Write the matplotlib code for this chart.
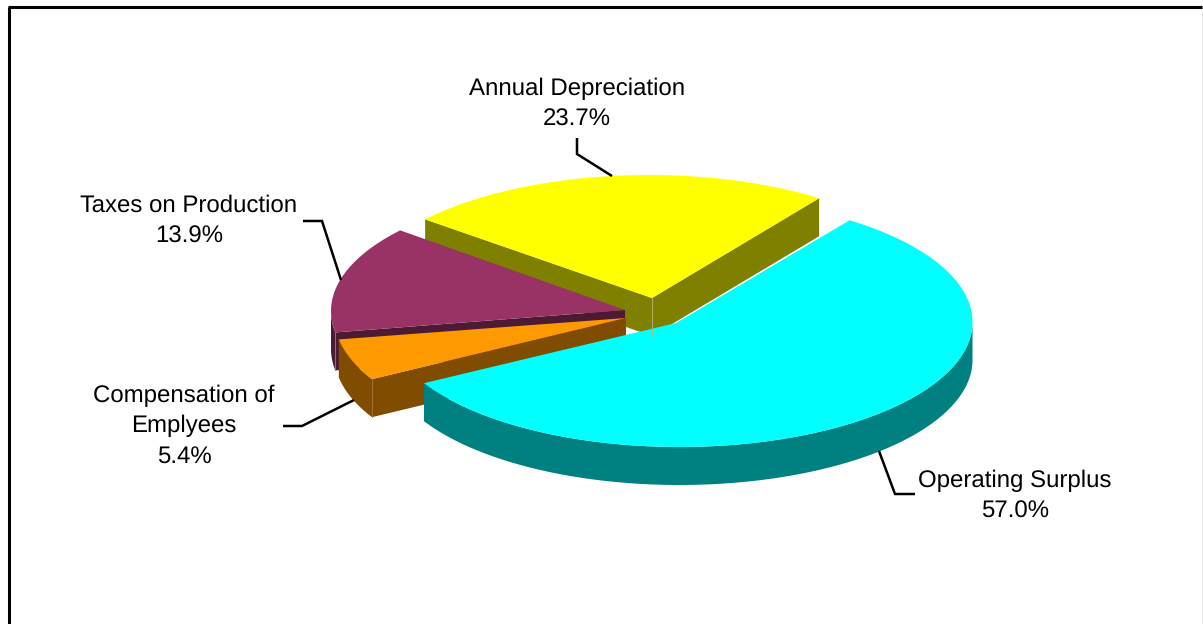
import numpy as np
import matplotlib
matplotlib.use("Agg")
import matplotlib.pyplot as plt

plt.rcParams["text.hinting"] = "no_hinting"
plt.rcParams["text.hinting_factor"] = 1

# Data
labels = ["Operating Surplus", "Compensation of\nEmplyees", "Taxes on Production", "Annual Depreciation"]
shares = [57.0, 5.4, 13.9, 23.7]

# Style
top_colors = ["#00FFFF", "#FF9900", "#993366", "#FFFF00"]
side_colors = ["#008080", "#804C00", "#4D1A33", "#808000"]
start_angle = 54.5
rx, ry, depth = 293, 125, 38

# Layout in pixels: where each exploded slice sits
arc_centers = [(679.5, 322), (627.5, 318), (624, 311), (649, 300)]
tips = [(676, 323), (626, 318), (625, 310), (652, 298)]
draw_order = [3, 2, 1, 0]
text_pos = [(1015, 496), (184, 426), (189, 221), (577, 104)]
leaders = [
    [(879, 451), (895, 494), (915, 494)],
    [(283, 426), (302, 426), (354, 400)],
    [(303, 221), (322, 221), (341, 280)],
    [(577, 138), (577, 154), (612, 176)],
]

fig = plt.figure(figsize=(12.03, 6.24), dpi=100)
ax = fig.add_axes([0, 0, 1, 1])
ax.set_xlim(0, 1203)
ax.set_ylim(624, 0)
ax.axis("off")


def arc(center, a1, a2):
    t = np.radians(np.linspace(a1, a2, 200))
    return center[0] + rx * np.cos(t), center[1] - ry * np.sin(t)


# slices go clockwise from the start angle
spans = np.array(shares) / sum(shares) * 360
ends = start_angle - np.cumsum(spans)
starts = ends + spans

for i in draw_order:
    a_hi, a_lo = starts[i], ends[i]
    c, tip = arc_centers[i], tips[i]
    x, y = arc(c, a_hi, a_lo)

    # cut faces, only those turned towards the viewer
    hi_visible = np.sin(np.radians(a_hi + 90)) < 0
    lo_visible = np.sin(np.radians(a_lo - 90)) < 0
    if hi_visible:
        ax.fill([tip[0], x[0], x[0], tip[0]], [tip[1], y[0], y[0] + depth, tip[1] + depth],
                color=side_colors[i], lw=0)
    if lo_visible:
        ax.fill([tip[0], x[-1], x[-1], tip[0]], [tip[1], y[-1], y[-1] + depth, tip[1] + depth],
                color=side_colors[i], lw=0)

    # outer rim, front half of the ellipse
    mask = np.sin(np.radians(np.linspace(a_hi, a_lo, 200))) <= 0
    if mask.any():
        ax.fill(np.r_[x[mask], x[mask][::-1]], np.r_[y[mask], y[mask][::-1] + depth],
                color=side_colors[i], lw=0)

    # pale seams where two side faces meet
    if hi_visible and lo_visible:
        ax.plot([tip[0], tip[0]], [tip[1], tip[1] + depth], color="#B8B870", lw=0.6)
    if hi_visible and mask.any():
        ax.plot([x[0], x[0]], [y[0], y[0] + depth], color="#A87840", lw=0.6)

    ax.fill(np.r_[tip[0], x], np.r_[tip[1], y], color=top_colors[i], lw=0)

for i, line in enumerate(leaders):
    ax.plot(*zip(*line), color="black", lw=1.8, solid_joinstyle="miter", solid_capstyle="butt")
    ax.text(text_pos[i][0], text_pos[i][1], f"{labels[i]}\n{shares[i]:.1f}%", ha="center", va="center",
            family="Liberation Sans", fontsize=17.4, linespacing=1.46)

# chart frame, the bottom is cut off in the original
ax.plot([9, 9], [624, 7], color="black", lw=2.2, solid_capstyle="butt")
ax.plot([8, 1202], [7, 7], color="black", lw=2.2, solid_capstyle="butt")
ax.plot([1202.5, 1202.5], [7, 624], color="#808080", lw=1)

fig.savefig("out.png", dpi=100)
